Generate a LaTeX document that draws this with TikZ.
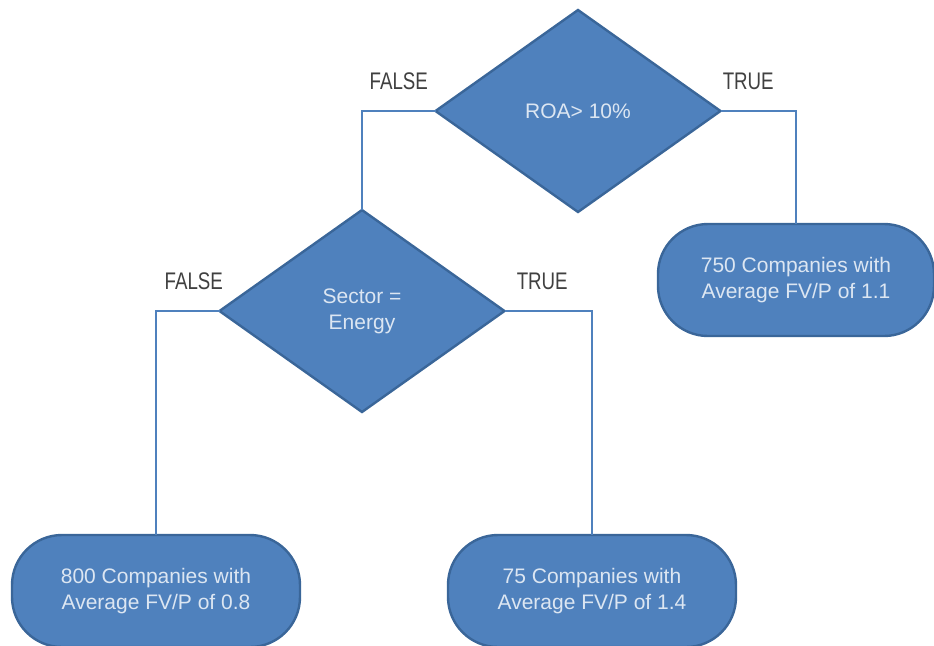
\documentclass[tikz,border=0pt]{standalone}
\usepackage{fontspec}
\setmainfont{Liberation Sans}
\newfontfamily\branchfont[FakeStretch=0.78]{Liberation Sans}
\usetikzlibrary{shapes.geometric,positioning}
\definecolor{boxblue}{HTML}{4F81BD}
\definecolor{edgeblue}{HTML}{3A6699}
\definecolor{boxtext}{HTML}{DCE6F2}
\definecolor{labelgray}{HTML}{404040}

\tikzset{
  decision/.style={diamond, draw=edgeblue, fill=boxblue, line width=1.2pt,
    inner sep=0pt, outer sep=0pt, minimum width=142.5pt, minimum height=101pt,
    text=boxtext, align=center, font=\fontsize{10.5}{13}\selectfont},
  outcome/.style={rectangle, rounded corners=25pt, draw=edgeblue, fill=boxblue,
    line width=1.2pt, inner sep=0pt, outer sep=0pt, minimum width=144pt,
    minimum height=56pt, text=boxtext, align=center,
    font=\fontsize{10.5}{13}\selectfont},
  branch/.style={draw=boxblue, line width=1pt},
  answer/.style={above=10pt, inner sep=0pt, text=labelgray,
    font=\branchfont\fontsize{12}{14}\selectfont}
}

\begin{document}
\begin{tikzpicture}[x=0.5pt, y=-0.5pt]
  \useasboundingbox (0,0) rectangle (934,645);

  % Define nodes
  \node[decision] (roa) at (578,111) {ROA> 10\%};
  \node[decision] (sector) at (362,311) {Sector =\\Energy};
  \node[outcome, minimum width=138pt] (high) at (796,280) {750 Companies with\\Average FV/P of 1.1};
  \node[outcome] (other) at (156,591) {800 Companies with\\Average FV/P of 0.8};
  \node[outcome] (energy) at (592,591) {75 Companies with\\Average FV/P of 1.4};

  % Draw branches
  \draw[branch] (roa.west) -| node[answer, pos=0.25] {FALSE} (sector.north);
  \draw[branch] (roa.east) -| node[answer, pos=0.25, xshift=-5pt] {TRUE} (high.north);
  \draw[branch] (sector.west) -| node[answer, pos=0.25, xshift=3pt] {FALSE} (other.north);
  \draw[branch] (sector.east) -| node[answer, pos=0.25, xshift=-3pt] {TRUE} (energy.north);
\end{tikzpicture}
\end{document}
